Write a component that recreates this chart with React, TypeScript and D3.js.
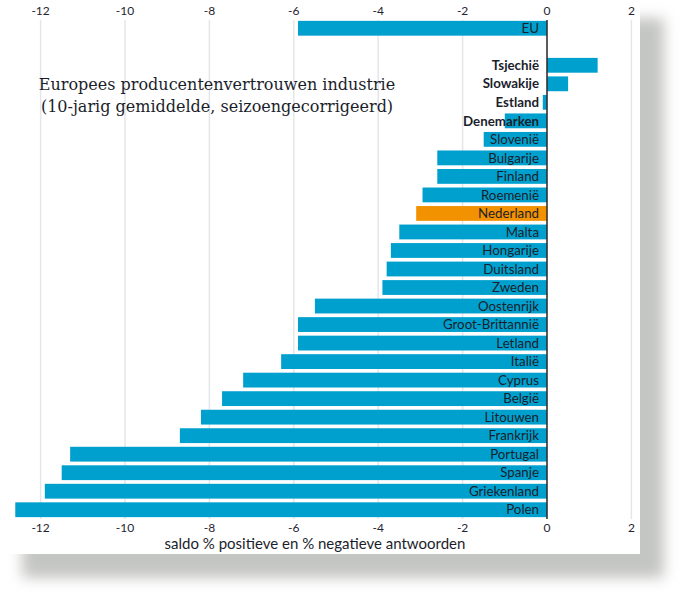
import { scaleBand, scaleLinear, range } from 'd3'

const countries = [
  'EU', '',
  'Tsjechië', 'Slowakije', 'Estland', 'Denemarken', 'Slovenië', 'Bulgarije',
  'Finland', 'Roemenië', 'Nederland', 'Malta', 'Hongarije', 'Duitsland',
  'Zweden', 'Oostenrijk', 'Groot-Brittannië', 'Letland', 'Italië', 'Cyprus',
  'België', 'Litouwen', 'Frankrijk', 'Portugal', 'Spanje', 'Griekenland', 'Polen',
]

const values = [
  -5.9, 0,
  1.2, 0.5, -0.1, -1.0, -1.5, -2.6,
  -2.6, -2.95, -3.1, -3.5, -3.7, -3.8,
  -3.9, -5.5, -5.9, -5.9, -6.3, -7.2,
  -7.7, -8.2, -8.7, -11.3, -11.5, -11.9, -12.6,
]

const boldLabels = ['Tsjechië', 'Slowakije', 'Estland', 'Denemarken']
const highlight = 'Nederland'
const xTicks = range(-12, 3, 2)

const titleLines = [
  'Europees producentenvertrouwen industrie',
  '(10-jarig gemiddelde, seizoengecorrigeerd)',
]
const axisTitle = 'saldo % positieve en % negatieve antwoorden'

const width = 680
const height = 595
const barColor = '#00a0ce'
const highlightColor = '#f39200'
const labelFont = 'Lato, "Open Sans", sans-serif'

function App() {
  const xScale = scaleLinear().domain([-12, 2]).range([40.6, 631.4])
  const yScale = scaleBand()
    .domain(countries.map((c, i) => `${i}`))
    .range([19, 519])
    .paddingInner(0.2)
    .paddingOuter(0.1)

  const x0 = xScale(0)

  return (
    <svg width={width} height={height} style={{ position: 'absolute', left: 0, top: 0 }}>
      <defs>
        <filter id="shadow" x="-10%" y="-10%" width="130%" height="130%">
          <feGaussianBlur stdDeviation="7" />
        </filter>
      </defs>
      <rect width={width} height={height} fill="#ffffff" />
      <rect x={22} y={18} width={642} height={560} fill="#c4c6c3" filter="url(#shadow)" />
      <rect x={0} y={0} width={640} height={554} fill="#ffffff" />

      {xTicks.map((t) => (
        <line
          key={`grid-${t}`}
          x1={xScale(t)}
          x2={xScale(t)}
          y1={20}
          y2={519}
          stroke="#e3e6ea"
          strokeWidth={1.5}
        />
      ))}

      {xTicks.map((t) => (
        <g key={`tick-${t}`} fontFamily={labelFont} fontSize={12} fill="#1f2433" textAnchor="middle">
          <text x={xScale(t)} y={15}>{t}</text>
          <text x={xScale(t)} y={532}>{t}</text>
        </g>
      ))}

      {countries.map((c, i) => {
        if (!c) return null
        const v = values[i]
        const y = yScale(`${i}`) ?? 0
        return (
          <rect
            key={`bar-${i}`}
            x={Math.min(xScale(v), x0)}
            y={y}
            width={Math.abs(xScale(v) - x0)}
            height={yScale.bandwidth()}
            fill={c === highlight ? highlightColor : barColor}
          />
        )
      })}

      {countries.map((c, i) => {
        if (!c) return null
        const y = (yScale(`${i}`) ?? 0) + yScale.bandwidth() / 2
        return (
          <text
            key={`label-${i}`}
            x={x0 - 8}
            y={y}
            dy="0.35em"
            textAnchor="end"
            fontFamily={labelFont}
            fontSize={13.3}
            fontWeight={boldLabels.includes(c) ? 700 : 400}
            fill="#1b1e2b"
          >
            {c}
          </text>
        )
      })}

      <line x1={x0} x2={x0} y1={20} y2={519} stroke="#2b2b2b" strokeWidth={1.5} />

      <g fontFamily='"DejaVu Serif", "Liberation Serif", serif' fontSize={16} fill="#1b1e2b" textAnchor="middle">
        {titleLines.map((line, i) => (
          <text key={line} x={217} y={90 + i * 22}>{line}</text>
        ))}
      </g>

      <text x={315} y={549} textAnchor="middle" fontFamily={labelFont} fontSize={15} fill="#1b1e2b">
        {axisTitle}
      </text>
    </svg>
  )
}

export default App
